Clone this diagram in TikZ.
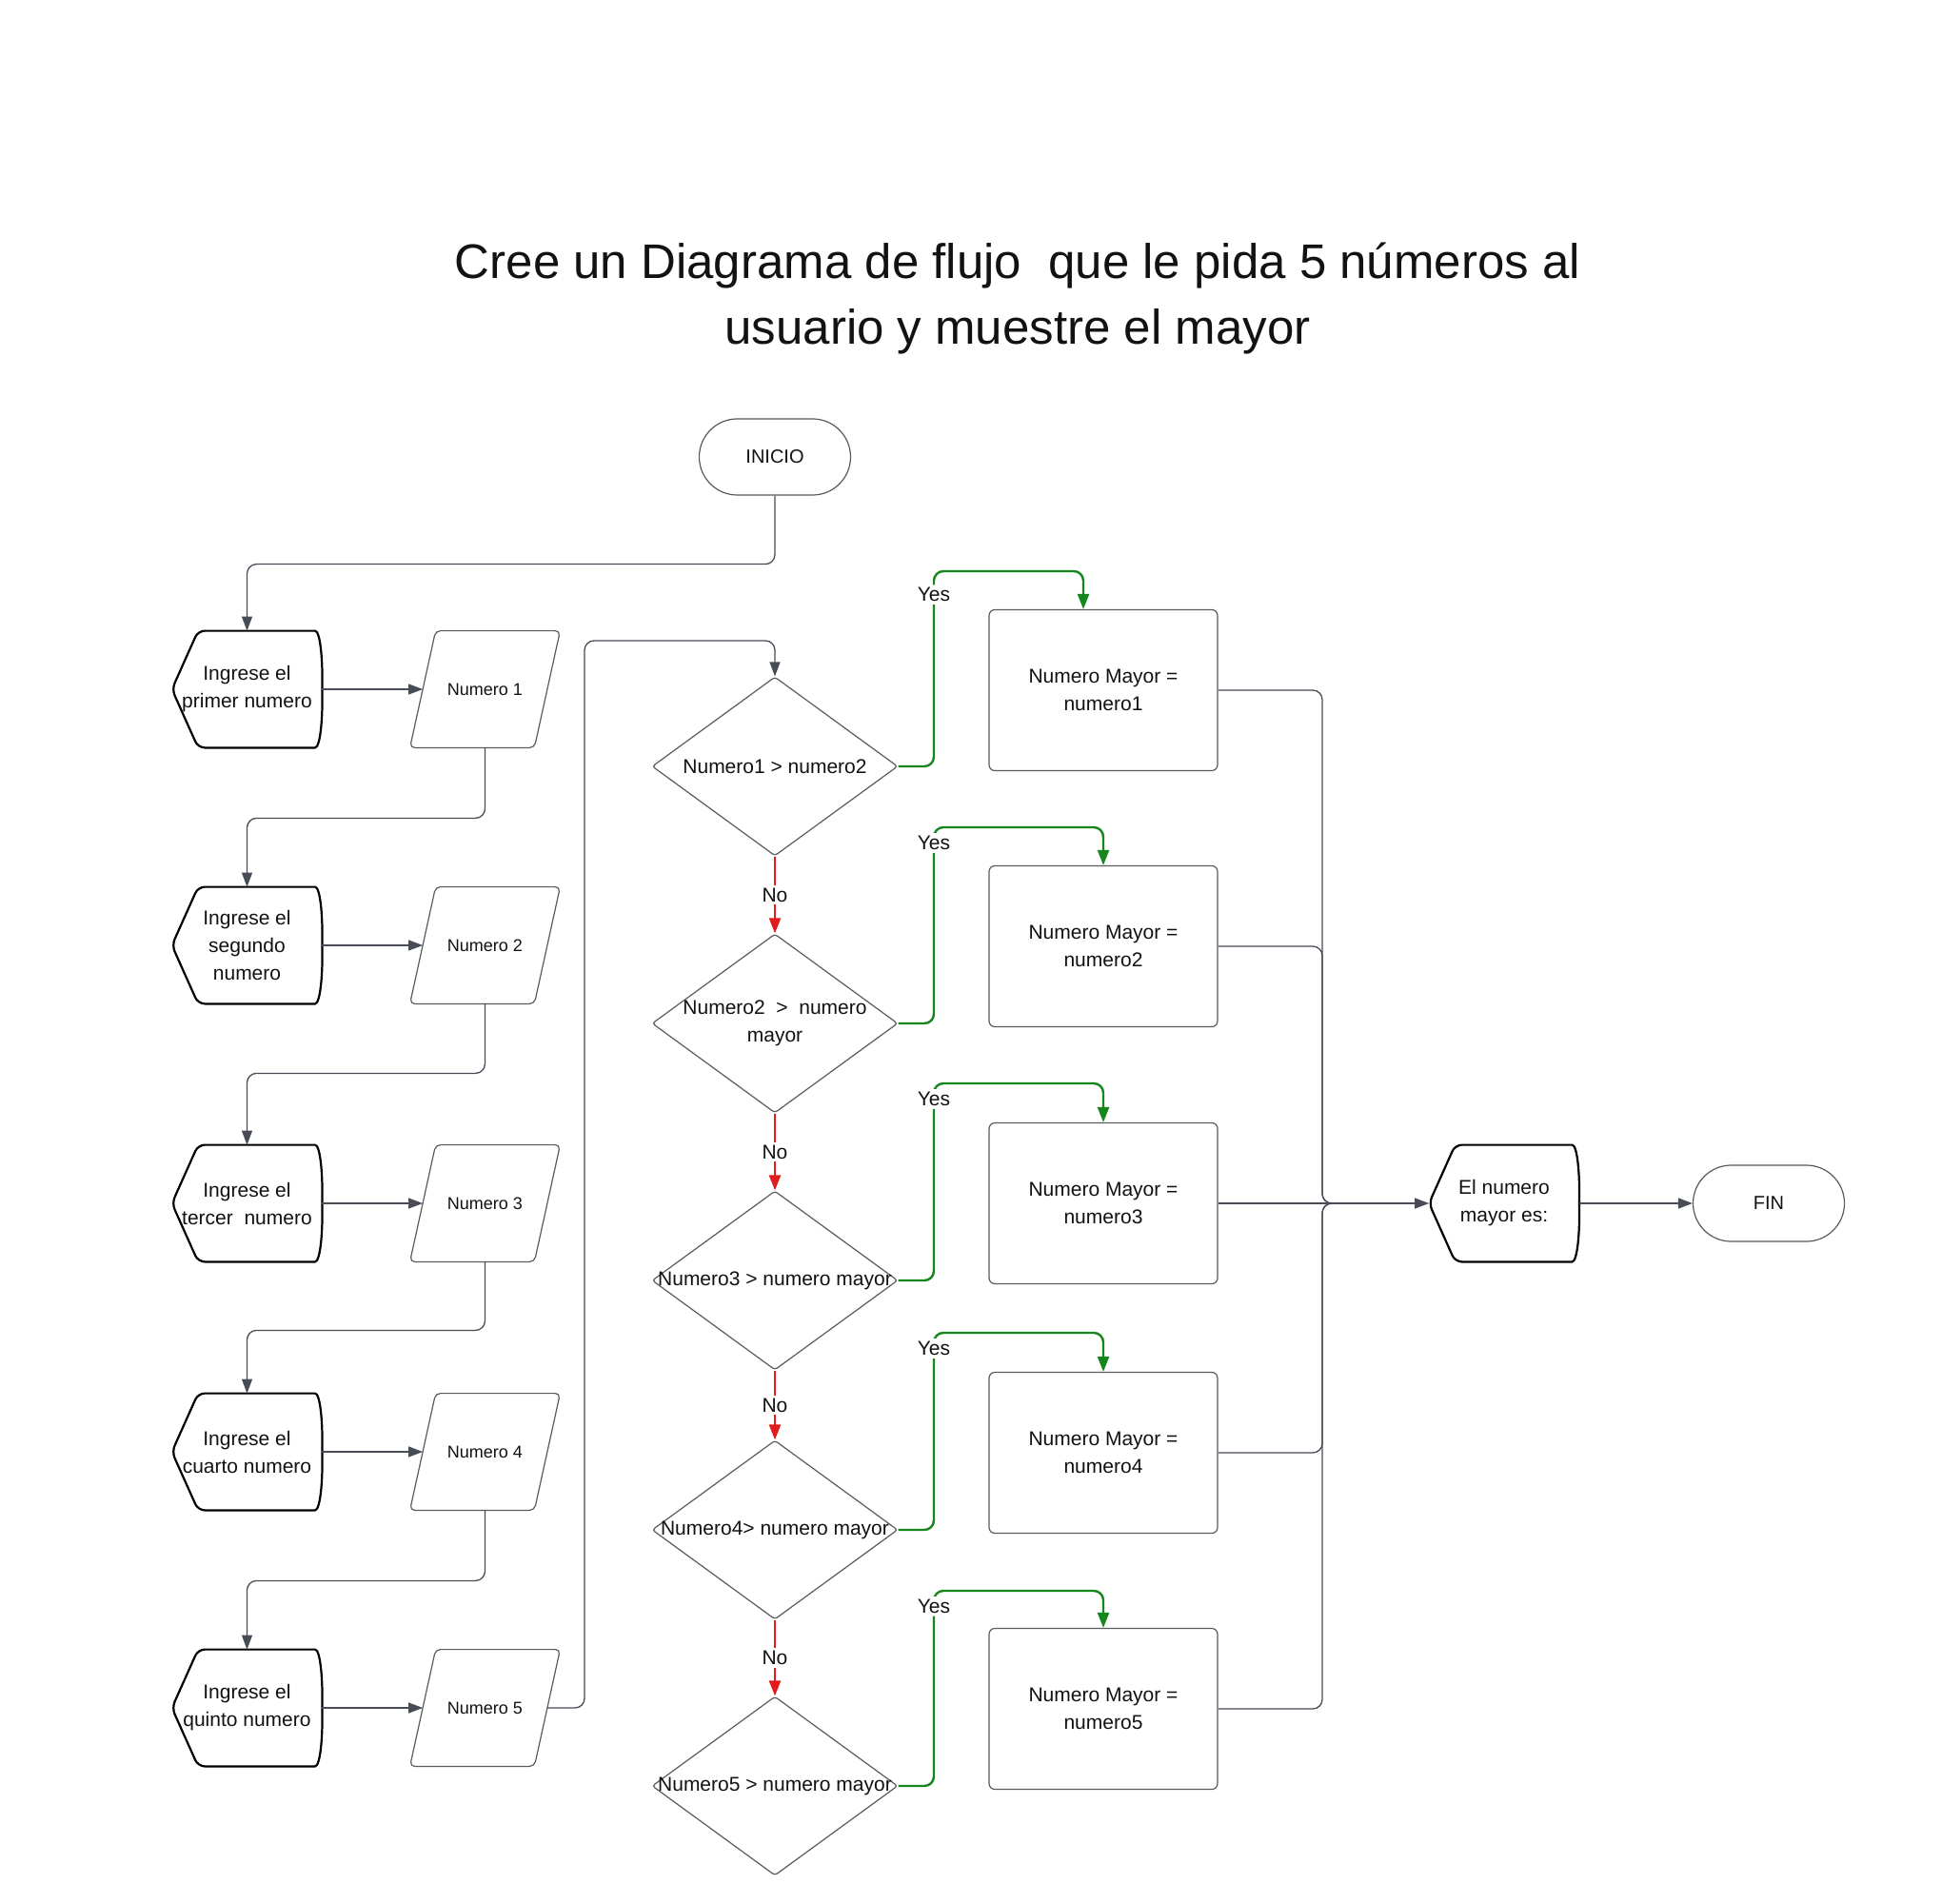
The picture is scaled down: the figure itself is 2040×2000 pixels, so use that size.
\documentclass[tikz,border=0pt]{standalone}
\usepackage{fontspec}
\setmainfont{Liberation Sans}
\usetikzlibrary{shapes.geometric,shapes.misc,arrows.meta}
\definecolor{lineg}{RGB}{72,76,86}
\definecolor{shapeg}{RGB}{90,90,95}
\definecolor{yesg}{RGB}{22,135,28}
\definecolor{nor}{RGB}{225,28,28}
\definecolor{txt}{RGB}{18,18,18}
\newcommand\nodefont{\fontsize{10.5}{14.5}\selectfont}
\newcommand\dispout[1]{\draw[displine] (#1.west) -- ([shift={(27.5,0)}]#1.north west) -- ([shift={(-14.5,0)}]#1.north east) .. controls ([shift={(-2,0)}]#1.north east) and ([shift={(0.5,30)}]#1.north east) .. (#1.east) .. controls ([shift={(0.5,-30)}]#1.south east) and ([shift={(-2,0)}]#1.south east) .. ([shift={(-14.5,0)}]#1.south east) -- ([shift={(27.5,0)}]#1.south west) -- cycle;}
\newcommand\ioout[1]{\draw[shapeline, rounded corners=2.5pt] ([shift={(-13.5,0)}]#1.south west) -- ([shift={(13.5,0)}]#1.north west) -- ([shift={(13.5,0)}]#1.north east) -- ([shift={(-13.5,0)}]#1.south east) -- cycle;}
\tikzset{
  shapeline/.style={draw=shapeg, line width=0.6pt},
  displine/.style={draw=black, line width=1.1pt, rounded corners=3.5pt},
  term/.style={rounded rectangle, shapeline, minimum width=79.5pt, minimum height=40pt, inner sep=0pt, font=\fontsize{10}{12}\selectfont, text=txt},
  disp/.style={rectangle, minimum width=78.5pt, minimum height=61pt, inner sep=0pt, align=center, font=\nodefont, text=txt},
  io/.style={rectangle, minimum width=65pt, minimum height=61pt, inner sep=0pt, align=center, font=\fontsize{9}{11}\selectfont, text=txt},
  decision/.style={diamond, shapeline, rounded corners=1.5pt, minimum width=129pt, minimum height=94pt, inner sep=0pt},
  dlabel/.style={font=\nodefont, text=txt, align=center, inner sep=0pt},
  proc/.style={rectangle, shapeline, rounded corners=3pt, minimum width=120pt, minimum height=84.5pt, inner sep=0pt, align=center, font=\nodefont, text=txt},
  conn/.style={draw=lineg, line width=0.65pt, rounded corners=5pt, -{Triangle[length=7.5pt,width=5.5pt]}},
  plain/.style={draw=lineg, line width=0.65pt, rounded corners=5pt},
  yesline/.style={draw=yesg, line width=1.2pt, rounded corners=5pt, -{Triangle[length=8pt,width=6pt]}},
  noline/.style={draw=nor, line width=1.2pt, -{Triangle[length=8pt,width=6pt]}},
  lbl/.style={fill=white, font=\nodefont, text=txt, inner sep=1.5pt}
}
\begin{document}
\begin{tikzpicture}[x=0.5pt, y=-0.5pt]
\fill[white] (0,0) rectangle (2040,2000);
\useasboundingbox (0,0) rectangle (2040,2000);

\node[align=center, font=\fontsize{25.5}{34.5}\selectfont, text=txt] (title) at (1069,314)
  {Cree un Diagrama de flujo\ \ que le pida 5 números al\\usuario y muestre el mayor};

\node[term] (inicio) at (814,480) {INICIO};

\node[disp] (in1) at (259.5,724) {Ingrese el\\primer numero};
\node[disp] (in2) at (259.5,993) {Ingrese el\\segundo\\numero};
\node[disp] (in3) at (259.5,1264) {Ingrese el\\tercer\ \ numero};
\node[disp] (in4) at (259.5,1525) {Ingrese el\\cuarto numero};
\node[disp] (in5) at (259.5,1794) {Ingrese el\\quinto numero};
\foreach \n in {in1,in2,in3,in4,in5} {\dispout{\n}}

\node[io] (n1) at (509.5,724) {Numero 1};
\node[io] (n2) at (509.5,993) {Numero 2};
\node[io] (n3) at (509.5,1264) {Numero 3};
\node[io] (n4) at (509.5,1525) {Numero 4};
\node[io] (n5) at (509.5,1794) {Numero 5};
\foreach \n in {n1,n2,n3,n4,n5} {\ioout{\n}}

\node[decision, label={[dlabel]center:{Numero1 > numero2}}] (d1) at (814,805) {};
\node[decision, label={[dlabel]center:{Numero2\ \ >\ \ numero\\mayor}}] (d2) at (814,1075) {};
\node[decision, label={[dlabel]center:{Numero3 > numero mayor}}] (d3) at (814,1345) {};
\node[decision, label={[dlabel]center:{Numero4> numero mayor}}] (d4) at (814,1607) {};
\node[decision, label={[dlabel]center:{Numero5 > numero mayor}}] (d5) at (814,1876) {};

\node[proc] (p1) at (1159,725) {Numero Mayor =\\numero1};
\node[proc] (p2) at (1159,994) {Numero Mayor =\\numero2};
\node[proc] (p3) at (1159,1264) {Numero Mayor =\\numero3};
\node[proc] (p4) at (1159,1526) {Numero Mayor =\\numero4};
\node[proc] (p5) at (1159,1795) {Numero Mayor =\\numero5};

\node[disp] (out) at (1580,1264) {El numero\\mayor es:};
\dispout{out}
\node[term] (fin) at (1858,1264) {FIN};

% left column flow
\draw[conn] (inicio.south) -- ++(0,72) -| (in1.north);
\draw[conn] (in1.east) -- (n1.west);
\draw[conn] (n1.south) -- ++(0,74) -| (in2.north);
\draw[conn] (in2.east) -- (n2.west);
\draw[conn] (n2.south) -- ++(0,73) -| (in3.north);
\draw[conn] (in3.east) -- (n3.west);
\draw[conn] (n3.south) -- ++(0,72) -| (in4.north);
\draw[conn] (in4.east) -- (n4.west);
\draw[conn] (n4.south) -- ++(0,74) -| (in5.north);
\draw[conn] (in5.east) -- (n5.west);
\draw[conn] (n5.east) -| (614,673) -| (d1.north);

% No branches
\draw[noline] (d1.south) -- node[lbl]{No} (d2.north);
\draw[noline] (d2.south) -- node[lbl]{No} (d3.north);
\draw[noline] (d3.south) -- node[lbl]{No} (d4.north);
\draw[noline] (d4.south) -- node[lbl]{No} (d5.north);

% Yes branches
\draw[yesline] (d1.east) -| (981,600) node[lbl,pos=0.94]{Yes} -| ([xshift=-10.5pt]p1.north);
\draw[yesline] (d2.east) -| (981,869) node[lbl,pos=0.96]{Yes} -| (p2.north);
\draw[yesline] (d3.east) -| (981,1138) node[lbl,pos=0.96]{Yes} -| (p3.north);
\draw[yesline] (d4.east) -| (981,1400) node[lbl,pos=0.96]{Yes} -| (p4.north);
\draw[yesline] (d5.east) -| (981,1671) node[lbl,pos=0.96]{Yes} -| (p5.north);

% merge to output
\draw[plain] (p1.east) -| (1389,1264) -- ++(60,0);
\draw[plain] (p2.east) -| (1389,1264) -- ++(60,0);
\draw[plain] (p4.east) -| (1389,1264) -- ++(60,0);
\draw[plain] (p5.east) -| (1389,1264) -- ++(60,0);
\draw[conn] (p3.east) -- (out.west);
\draw[conn] (out.east) -- (fin.west);
\end{tikzpicture}
\end{document}
